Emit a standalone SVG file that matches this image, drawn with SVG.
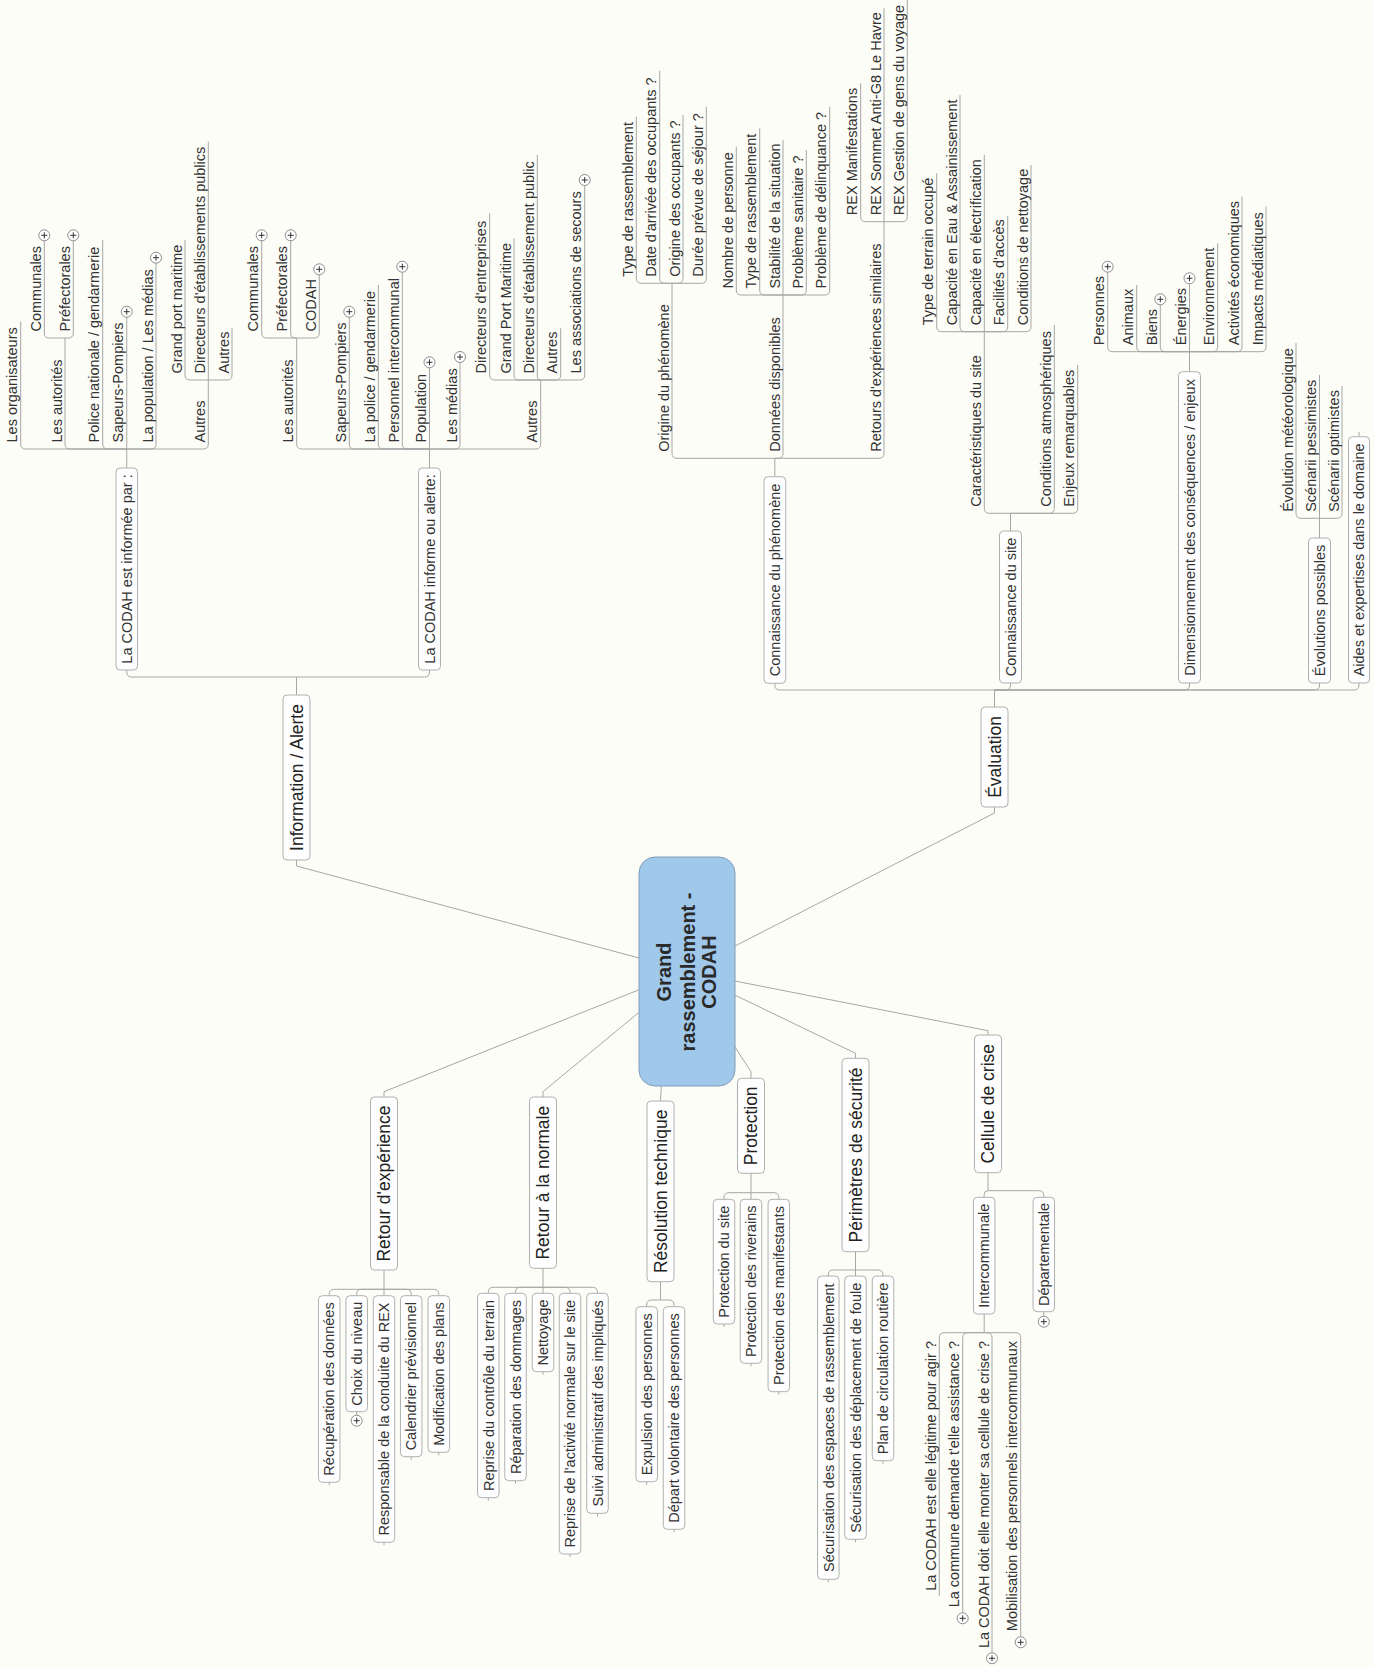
<svg xmlns="http://www.w3.org/2000/svg" width="1374" height="1667" viewBox="0 0 1374 1667">
<defs>
<style>
.bg{fill:#fdfdf7}
.c{fill:none;stroke:#a6a6a6;stroke-width:1}
.bx{fill:#fefefe;stroke:#b0b0b0;stroke-width:1}
.l{font-family:"Liberation Sans",Arial,sans-serif;font-size:14.5px;fill:#333}
.m{text-anchor:middle}
.e{text-anchor:end}
.t{font-family:"Liberation Sans",Arial,sans-serif;font-size:17.5px;fill:#222;text-anchor:middle}
.r{font-family:"Liberation Sans",Arial,sans-serif;font-size:20px;font-weight:bold;fill:#2a2a2a;text-anchor:middle}
</style>
<g id="p"><circle r="5.5" fill="#fff" stroke="#8c8c8c"/><path d="M-3 0H3M0-3V3" stroke="#333" stroke-width="1"/></g>
</defs>
<rect class="bg" x="0" y="0" width="1374" height="1667"/>

<g id="connectors" class="c">
<!-- root -->
<path d="M639 958 L296.5 866 V860"/>
<path d="M735 946 L994.5 813 V807"/>
<path d="M638.5 990 L384 1091.7 V1097"/>
<path d="M638.5 1012.7 L543 1091.7 V1097"/>
<path d="M661.3 1086 L660.5 1101"/>
<path d="M734.7 1046.7 L751 1071.7 V1078.3"/>
<path d="M734.7 995 L855.5 1053.3 V1058.3"/>
<path d="M734.7 981 L988 1030.7 V1035"/>
<!-- Information / Alerte -->
<path d="M296.5 695 V677"/>
<path d="M296.5 677 H131.75 Q126.75 677 126.75 672 V670"/>
<path d="M296.5 677 H424.5 Q429.5 677 429.5 672 V670"/>
<path d="M126.75 468 V449"/>
<path d="M126.75 449 H25.7 Q20.7 449 20.7 444 V321.7"/>
<path d="M126.75 449 H70 Q65 449 65 444 V338"/>
<path d="M126.75 449 H107.7 Q102.7 449 102.7 444 V240"/>
<path d="M126.75 449 V317.2"/>
<path d="M126.75 449 H151 Q156 449 156 444 V263.2"/>
<path d="M126.75 449 H203.3 Q208.3 449 208.3 444 V380"/>
<path d="M65 338 H49.3 Q44.3 338 44.3 333 V240.8"/>
<path d="M65 338 H68.3 Q73.3 338 73.3 333 V240.8"/>
<path d="M208.3 380 H190 Q185 380 185 375 V240"/>
<path d="M208.3 380 V141.7"/>
<path d="M208.3 380 H227 Q232 380 232 375 V328"/>
<path d="M429.5 468 V449"/>
<path d="M429.5 449 H301.7 Q296.7 449 296.7 444 V338"/>
<path d="M429.5 449 H354.3 Q349.3 449 349.3 444 V317.2"/>
<path d="M429.5 449 H383.3 Q378.3 449 378.3 444 V285"/>
<path d="M429.5 449 H407.3 Q402.3 449 402.3 444 V272.2"/>
<path d="M429.5 449 V367.8"/>
<path d="M429.5 449 H455 Q460 449 460 444 V362.5"/>
<path d="M429.5 449 H535.7 Q540.7 449 540.7 444 V380"/>
<path d="M296.7 338 H266.7 Q261.7 338 261.7 333 V240.8"/>
<path d="M296.7 338 H295.7 Q290.7 338 290.7 333 V240.8"/>
<path d="M296.7 338 H314.3 Q319.3 338 319.3 333 V274.8"/>
<path d="M540.7 380 H494.7 Q489.7 380 489.7 375 V213.3"/>
<path d="M540.7 380 H519 Q514 380 514 375 V238.3"/>
<path d="M540.7 380 Q537.3 380 537.3 376.6 V155"/>
<path d="M540.7 380 H555.7 Q560.7 380 560.7 375 V328.3"/>
<path d="M540.7 380 H579.7 Q584.7 380 584.7 375 V185.5"/>
<!-- Évaluation -->
<path d="M994.5 707 V690"/>
<path d="M994.5 690 H779.85 Q774.85 690 774.85 685 V683.3"/>
<path d="M994.5 690 H1005.5 Q1010.5 690 1010.5 685 V683"/>
<path d="M994.5 690 H1184.5 Q1189.5 690 1189.5 685 V683"/>
<path d="M994.5 690 H1314.5 Q1319.5 690 1319.5 685 V683"/>
<path d="M994.5 690 H1354 Q1359 690 1359 685 V683"/>
<path d="M1359 436.7 V432"/>
<path d="M774.85 476.7 V458.3"/>
<path d="M774.85 458.3 H677 Q672 458.3 672 453.3 V283.3"/>
<path d="M774.85 458.3 H778 Q783 458.3 783 453.3 V295"/>
<path d="M774.85 458.3 H879 Q884 458.3 884 453.3 V221.7"/>
<path d="M672 283.3 H641.3 Q636.3 283.3 636.3 278.3 V116.7"/>
<path d="M672 283.3 H664.7 Q659.7 283.3 659.7 278.3 V70.7"/>
<path d="M672 283.3 H678 Q683 283.3 683 278.3 V115"/>
<path d="M672 283.3 H701.3 Q706.3 283.3 706.3 278.3 V106.7"/>
<path d="M783 295 H741.3 Q736.3 295 736.3 290 V146.7"/>
<path d="M783 295 H764.7 Q759.7 295 759.7 290 V128.3"/>
<path d="M783 295 V140"/>
<path d="M783 295 H801.3 Q806.3 295 806.3 290 V150"/>
<path d="M783 295 H824.7 Q829.7 295 829.7 290 V106.7"/>
<path d="M884 221.7 H865.7 Q860.7 221.7 860.7 216.7 V83.3"/>
<path d="M884 221.7 V8.3"/>
<path d="M884 221.7 H902.3 Q907.3 221.7 907.3 216.7 V0"/>
<path d="M1010.5 531 V513.3"/>
<path d="M1010.5 513.3 H989.3 Q984.3 513.3 984.3 508.3 V331.7"/>
<path d="M1010.5 513.3 H1049.3 Q1054.3 513.3 1054.3 508.3 V325"/>
<path d="M1010.5 513.3 H1072.7 Q1077.7 513.3 1077.7 508.3 V365"/>
<path d="M984.3 331.7 H941.7 Q936.7 331.7 936.7 326.7 V173.3"/>
<path d="M984.3 331.7 H965 Q960 331.7 960 326.7 V95"/>
<path d="M984.3 331.7 V155"/>
<path d="M984.3 331.7 H1002.7 Q1007.7 331.7 1007.7 326.7 V216"/>
<path d="M984.3 331.7 H1026 Q1031 331.7 1031 326.7 V165"/>
<path d="M1189.5 371.7 V351.7"/>
<path d="M1189.5 351.7 H1112.7 Q1107.7 351.7 1107.7 346.7 V272.2"/>
<path d="M1189.5 351.7 H1141.7 Q1136.7 351.7 1136.7 346.7 V285"/>
<path d="M1189.5 351.7 H1165.3 Q1160.3 351.7 1160.3 346.7 V304.8"/>
<path d="M1189.5 351.7 V283.8"/>
<path d="M1189.5 351.7 H1212.7 Q1217.7 351.7 1217.7 346.7 V243.3"/>
<path d="M1189.5 351.7 H1237 Q1242 351.7 1242 346.7 V196.7"/>
<path d="M1189.5 351.7 H1261 Q1266 351.7 1266 346.7 V206.7"/>
<path d="M1319.5 538 V518.3"/>
<path d="M1319.5 518.3 H1301 Q1296 518.3 1296 513.3 V343"/>
<path d="M1319.5 518.3 V375"/>
<path d="M1319.5 518.3 H1337 Q1342 518.3 1342 513.3 V386"/>
<!-- Retour d'expérience -->
<path d="M384 1270 V1289.3"/>
<path d="M384 1289.3 H334.2 Q329.2 1289.3 329.2 1294.3 V1295.7"/>
<path d="M384 1289.3 H361.7 Q356.7 1289.3 356.7 1294.3 V1295.7"/>
<path d="M384 1289.3 V1295.7"/>
<path d="M384 1289.3 H406.2 Q411.2 1289.3 411.2 1294.3 V1295.7"/>
<path d="M384 1289.3 H433.8 Q438.8 1289.3 438.8 1294.3 V1295.7"/>
<path d="M329.2 1482.3 v3 M356.7 1411.7 V1415.2 M384 1542.3 v3 M411.2 1456.7 v3 M438.8 1452.3 v3"/>
<!-- Retour à la normale -->
<path d="M543 1268.3 V1287.3"/>
<path d="M543 1287.3 H493.3 Q488.3 1287.3 488.3 1292.3 V1293.3"/>
<path d="M543 1287.3 H520.5 Q515.5 1287.3 515.5 1292.3 V1293.3"/>
<path d="M543 1287.3 V1293.3"/>
<path d="M543 1287.3 H565 Q570 1287.3 570 1292.3 V1293.3"/>
<path d="M543 1287.3 H592.5 Q597.5 1287.3 597.5 1292.3 V1293.3"/>
<path d="M488.3 1497.7 v3 M515.5 1480.7 v3 M543 1371.7 v3 M570 1554 v3 M597.5 1513.3 v3"/>
<!-- Résolution technique -->
<path d="M660.5 1281.7 V1300"/>
<path d="M660.5 1300 H651.7 Q646.7 1300 646.7 1305 V1306.7"/>
<path d="M660.5 1300 H669 Q674 1300 674 1305 V1306.7"/>
<path d="M646.7 1481.7 v3 M674 1529.3 v3"/>
<!-- Protection -->
<path d="M751 1173.3 V1192.7"/>
<path d="M751 1192.7 H729 Q724 1192.7 724 1197.7 V1199.3"/>
<path d="M751 1192.7 V1199.3"/>
<path d="M751 1192.7 H773.8 Q778.8 1192.7 778.8 1197.7 V1199.3"/>
<path d="M724 1324 v3 M751 1363.3 v3 M778.8 1391.7 v3"/>
<!-- Périmètres de sécurité -->
<path d="M855.5 1251.7 V1270"/>
<path d="M855.5 1270 H833.3 Q828.3 1270 828.3 1275 V1276"/>
<path d="M855.5 1270 V1276"/>
<path d="M855.5 1270 H878 Q883 1270 883 1275 V1276"/>
<path d="M828.3 1579.3 v3 M855.5 1539.3 v3 M883 1460.7 v3"/>
<!-- Cellule de crise -->
<path d="M988 1172.7 V1190.7"/>
<path d="M988 1190.7 Q984.2 1190.7 984.2 1194.5 V1197.3"/>
<path d="M988 1190.7 H1038.8 Q1043.8 1190.7 1043.8 1195.7 V1197.3"/>
<path d="M1043.8 1311.7 V1316.2"/>
<path d="M984.2 1314 V1332.7"/>
<path d="M984.2 1332.7 H944.3 Q939.3 1332.7 939.3 1337.7 V1596"/>
<path d="M984.2 1332.7 H967.7 Q962.7 1332.7 962.7 1337.7 V1612.8"/>
<path d="M984.2 1332.7 H987 Q992 1332.7 992 1337.7 V1652.8"/>
<path d="M984.2 1332.7 H1015.7 Q1020.7 1332.7 1020.7 1337.7 V1636.8"/>
</g>

<g id="root">
<rect x="639" y="857" width="96" height="229" rx="16" fill="#a0c8eb" stroke="#7f9db8"/>
<text class="r" transform="translate(671 972) rotate(-90)">Grand</text>
<text class="r" transform="translate(694.5 972) rotate(-90)">rassemblement -</text>
<text class="r" transform="translate(716 972) rotate(-90)">CODAH</text>
</g>

<!-- Information / Alerte -->
<g id="n-info">
<rect class="bx" x="283" y="695" width="27" height="165" rx="4"/>
<text class="t" transform="translate(302.8 777.5) rotate(-90)">Information / Alerte</text>
</g>
<g id="n-info-1">
<rect class="bx" x="116" y="468" width="21.5" height="202" rx="4"/>
<text class="l m" transform="translate(132 569) rotate(-90)">La CODAH est informée par :</text>
</g>
<g id="n-info-1-a"><text class="l" transform="translate(17.4 442.5) rotate(-90)">Les organisateurs</text></g>
<g id="n-info-1-b"><text class="l" transform="translate(61.7 442.5) rotate(-90)">Les autorités</text></g>
<g id="n-info-1-b1"><text class="l" transform="translate(41 331.5) rotate(-90)">Communales</text><use href="#p" x="44.3" y="235.3"/></g>
<g id="n-info-1-b2"><text class="l" transform="translate(70 331.5) rotate(-90)">Préfectorales</text><use href="#p" x="73.3" y="235.3"/></g>
<g id="n-info-1-c"><text class="l" transform="translate(99.4 442.5) rotate(-90)">Police nationale / gendarmerie</text></g>
<g id="n-info-1-d"><text class="l" transform="translate(123.4 442.5) rotate(-90)">Sapeurs-Pompiers</text><use href="#p" x="126.75" y="311.7"/></g>
<g id="n-info-1-e"><text class="l" transform="translate(152.7 442.5) rotate(-90)">La population / Les médias</text><use href="#p" x="156" y="257.7"/></g>
<g id="n-info-1-f"><text class="l" transform="translate(205 442.5) rotate(-90)">Autres</text></g>
<g id="n-info-1-f1"><text class="l" transform="translate(181.7 373.5) rotate(-90)">Grand port maritime</text></g>
<g id="n-info-1-f2"><text class="l" transform="translate(205 373.5) rotate(-90)">Directeurs d'établissements publics</text></g>
<g id="n-info-1-f3"><text class="l" transform="translate(228.7 373.5) rotate(-90)">Autres</text></g>

<g id="n-info-2">
<rect class="bx" x="418.5" y="468" width="22" height="202" rx="4"/>
<text class="l m" transform="translate(434.7 569) rotate(-90)">La CODAH informe ou alerte:</text>
</g>
<g id="n-info-2-a"><text class="l" transform="translate(293.4 442.5) rotate(-90)">Les autorités</text></g>
<g id="n-info-2-a1"><text class="l" transform="translate(258.4 331.5) rotate(-90)">Communales</text><use href="#p" x="261.7" y="235.3"/></g>
<g id="n-info-2-a2"><text class="l" transform="translate(287.4 331.5) rotate(-90)">Préfectorales</text><use href="#p" x="290.7" y="235.3"/></g>
<g id="n-info-2-a3"><text class="l" transform="translate(316 331.5) rotate(-90)">CODAH</text><use href="#p" x="319.3" y="269.3"/></g>
<g id="n-info-2-b"><text class="l" transform="translate(346 442.5) rotate(-90)">Sapeurs-Pompiers</text><use href="#p" x="349.3" y="311.7"/></g>
<g id="n-info-2-c"><text class="l" transform="translate(375 442.5) rotate(-90)">La police / gendarmerie</text></g>
<g id="n-info-2-d"><text class="l" transform="translate(399 442.5) rotate(-90)">Personnel intercommunal</text><use href="#p" x="402.3" y="266.7"/></g>
<g id="n-info-2-e"><text class="l" transform="translate(426.2 442.5) rotate(-90)">Population</text><use href="#p" x="429.5" y="362.3"/></g>
<g id="n-info-2-f"><text class="l" transform="translate(456.7 442.5) rotate(-90)">Les médias</text><use href="#p" x="460" y="357"/></g>
<g id="n-info-2-g"><text class="l" transform="translate(537.4 442.5) rotate(-90)">Autres</text></g>
<g id="n-info-2-g1"><text class="l" transform="translate(486.4 373.5) rotate(-90)">Directeurs d'entreprises</text></g>
<g id="n-info-2-g2"><text class="l" transform="translate(510.7 373.5) rotate(-90)">Grand Port Maritime</text></g>
<g id="n-info-2-g3"><text class="l" transform="translate(534 373.5) rotate(-90)">Directeurs d'établissement public</text></g>
<g id="n-info-2-g4"><text class="l" transform="translate(557.4 373.5) rotate(-90)">Autres</text></g>
<g id="n-info-2-g5"><text class="l" transform="translate(581.4 373.5) rotate(-90)">Les associations de secours</text><use href="#p" x="584.7" y="180"/></g>

<!-- Évaluation -->
<g id="n-eval">
<rect class="bx" x="981" y="707" width="27" height="100" rx="4"/>
<text class="t" transform="translate(1000.8 757) rotate(-90)">Évaluation</text>
</g>
<g id="n-eval-1">
<rect class="bx" x="764" y="476.7" width="21.7" height="206.6" rx="4"/>
<text class="l m" transform="translate(780 580) rotate(-90)">Connaissance du phénomène</text>
</g>
<g id="n-eval-1-a"><text class="l" transform="translate(668.7 451.8) rotate(-90)">Origine du phénomène</text></g>
<g id="n-eval-1-a1"><text class="l" transform="translate(633 276.8) rotate(-90)">Type de rassemblement</text></g>
<g id="n-eval-1-a2"><text class="l" transform="translate(656.4 276.8) rotate(-90)">Date d'arrivée des occupants ?</text></g>
<g id="n-eval-1-a3"><text class="l" transform="translate(679.7 276.8) rotate(-90)">Origine des occupants ?</text></g>
<g id="n-eval-1-a4"><text class="l" transform="translate(703 276.8) rotate(-90)">Durée prévue de séjour ?</text></g>
<g id="n-eval-1-b"><text class="l" transform="translate(779.7 451.8) rotate(-90)">Données disponibles</text></g>
<g id="n-eval-1-b1"><text class="l" transform="translate(733 288.5) rotate(-90)">Nombre de personne</text></g>
<g id="n-eval-1-b2"><text class="l" transform="translate(756.4 288.5) rotate(-90)">Type de rassemblement</text></g>
<g id="n-eval-1-b3"><text class="l" transform="translate(779.7 288.5) rotate(-90)">Stabilité de la situation</text></g>
<g id="n-eval-1-b4"><text class="l" transform="translate(803 288.5) rotate(-90)">Problème sanitaire ?</text></g>
<g id="n-eval-1-b5"><text class="l" transform="translate(826.4 288.5) rotate(-90)">Problème de délinquance ?</text></g>
<g id="n-eval-1-c"><text class="l" transform="translate(880.7 451.8) rotate(-90)">Retours d'expériences similaires</text></g>
<g id="n-eval-1-c1"><text class="l" transform="translate(857.4 215.2) rotate(-90)">REX Manifestations</text></g>
<g id="n-eval-1-c2"><text class="l" transform="translate(880.7 215.2) rotate(-90)">REX Sommet Anti-G8 Le Havre</text></g>
<g id="n-eval-1-c3"><text class="l" transform="translate(904 215.2) rotate(-90)">REX Gestion de gens du voyage</text></g>

<g id="n-eval-2">
<rect class="bx" x="999.5" y="531" width="22" height="152" rx="4"/>
<text class="l m" transform="translate(1015.7 607) rotate(-90)">Connaissance du site</text>
</g>
<g id="n-eval-2-a"><text class="l" transform="translate(981 506.8) rotate(-90)">Caractéristiques du site</text></g>
<g id="n-eval-2-a1"><text class="l" transform="translate(933.4 325.2) rotate(-90)">Type de terrain occupé</text></g>
<g id="n-eval-2-a2"><text class="l" transform="translate(956.7 325.2) rotate(-90)">Capacité en Eau &amp; Assainissement</text></g>
<g id="n-eval-2-a3"><text class="l" transform="translate(981 325.2) rotate(-90)">Capacité en électrification</text></g>
<g id="n-eval-2-a4"><text class="l" transform="translate(1004.4 325.2) rotate(-90)">Facilités d'accès</text></g>
<g id="n-eval-2-a5"><text class="l" transform="translate(1027.7 325.2) rotate(-90)">Conditions de nettoyage</text></g>
<g id="n-eval-2-b"><text class="l" transform="translate(1051 506.8) rotate(-90)">Conditions atmosphériques</text></g>
<g id="n-eval-2-c"><text class="l" transform="translate(1074.4 506.8) rotate(-90)">Enjeux remarquables</text></g>

<g id="n-eval-3">
<rect class="bx" x="1178.5" y="371.7" width="22" height="311.3" rx="4"/>
<text class="l m" transform="translate(1194.7 527.4) rotate(-90)">Dimensionnement des conséquences / enjeux</text>
</g>
<g id="n-eval-3-a"><text class="l" transform="translate(1104.4 345.2) rotate(-90)">Personnes</text><use href="#p" x="1107.7" y="266.7"/></g>
<g id="n-eval-3-b"><text class="l" transform="translate(1133.4 345.2) rotate(-90)">Animaux</text></g>
<g id="n-eval-3-c"><text class="l" transform="translate(1157 345.2) rotate(-90)">Biens</text><use href="#p" x="1160.3" y="299.3"/></g>
<g id="n-eval-3-d"><text class="l" transform="translate(1186.2 345.2) rotate(-90)">Énergies</text><use href="#p" x="1189.5" y="278.3"/></g>
<g id="n-eval-3-e"><text class="l" transform="translate(1214.4 345.2) rotate(-90)">Environnement</text></g>
<g id="n-eval-3-f"><text class="l" transform="translate(1238.7 345.2) rotate(-90)">Activités économiques</text></g>
<g id="n-eval-3-g"><text class="l" transform="translate(1262.7 345.2) rotate(-90)">Impacts médiatiques</text></g>

<g id="n-eval-4">
<rect class="bx" x="1308.5" y="538" width="22" height="145" rx="4"/>
<text class="l m" transform="translate(1324.7 610.5) rotate(-90)">Évolutions possibles</text>
</g>
<g id="n-eval-4-a"><text class="l" transform="translate(1292.7 511.8) rotate(-90)">Évolution météorologique</text></g>
<g id="n-eval-4-b"><text class="l" transform="translate(1316 511.8) rotate(-90)">Scénarii pessimistes</text></g>
<g id="n-eval-4-c"><text class="l" transform="translate(1338.7 511.8) rotate(-90)">Scénarii optimistes</text></g>

<g id="n-eval-5">
<rect class="bx" x="1348.5" y="436.7" width="21" height="246.3" rx="4"/>
<text class="l m" transform="translate(1364.2 559.9) rotate(-90)">Aides et expertises dans le domaine</text>
</g>

<!-- Retour d'expérience -->
<g id="n-rex">
<rect class="bx" x="370.5" y="1097" width="27" height="173" rx="4"/>
<text class="t" transform="translate(390.3 1183.5) rotate(-90)">Retour d'expérience</text>
</g>
<g id="n-rex-1"><rect class="bx" x="318.45" y="1295.7" width="21.5" height="186.6" rx="4"/><text class="l m" transform="translate(334.4 1389) rotate(-90)">Récupération des données</text></g>
<g id="n-rex-2"><rect class="bx" x="345.95" y="1295.7" width="21.5" height="116" rx="4"/><text class="l m" transform="translate(361.9 1353.7) rotate(-90)">Choix du niveau</text><use href="#p" x="356.7" y="1420.7"/></g>
<g id="n-rex-3"><rect class="bx" x="373.25" y="1295.7" width="21.5" height="246.6" rx="4"/><text class="l m" transform="translate(389.2 1419) rotate(-90)">Responsable de la conduite du REX</text></g>
<g id="n-rex-4"><rect class="bx" x="400.45" y="1295.7" width="21.5" height="161" rx="4"/><text class="l m" transform="translate(416.4 1376.2) rotate(-90)">Calendrier prévisionnel</text></g>
<g id="n-rex-5"><rect class="bx" x="428.05" y="1295.7" width="21.5" height="156.6" rx="4"/><text class="l m" transform="translate(444 1374) rotate(-90)">Modification des plans</text></g>

<!-- Retour à la normale -->
<g id="n-norm">
<rect class="bx" x="529.5" y="1097" width="27" height="171.3" rx="4"/>
<text class="t" transform="translate(549.3 1182.7) rotate(-90)">Retour à la normale</text>
</g>
<g id="n-norm-1"><rect class="bx" x="477.55" y="1293.3" width="21.5" height="204.4" rx="4"/><text class="l m" transform="translate(493.5 1395.5) rotate(-90)">Reprise du contrôle du terrain</text></g>
<g id="n-norm-2"><rect class="bx" x="504.75" y="1293.3" width="21.5" height="187.4" rx="4"/><text class="l m" transform="translate(520.7 1387) rotate(-90)">Réparation des dommages</text></g>
<g id="n-norm-3"><rect class="bx" x="532.25" y="1293.3" width="21.5" height="78.4" rx="4"/><text class="l m" transform="translate(548.2 1332.5) rotate(-90)">Nettoyage</text></g>
<g id="n-norm-4"><rect class="bx" x="559.25" y="1293.3" width="21.5" height="260.7" rx="4"/><text class="l m" transform="translate(575.2 1423.7) rotate(-90)">Reprise de l'activité normale sur le site</text></g>
<g id="n-norm-5"><rect class="bx" x="586.75" y="1293.3" width="21.5" height="220" rx="4"/><text class="l m" transform="translate(602.7 1403.3) rotate(-90)">Suivi administratif des impliqués</text></g>

<!-- Résolution technique -->
<g id="n-tech">
<rect class="bx" x="647" y="1101" width="27" height="180.7" rx="4"/>
<text class="t" transform="translate(666.8 1191.3) rotate(-90)">Résolution technique</text>
</g>
<g id="n-tech-1"><rect class="bx" x="635.95" y="1306.7" width="21.5" height="175" rx="4"/><text class="l m" transform="translate(651.9 1394.2) rotate(-90)">Expulsion des personnes</text></g>
<g id="n-tech-2"><rect class="bx" x="663.25" y="1306.7" width="21.5" height="222.6" rx="4"/><text class="l m" transform="translate(679.2 1418) rotate(-90)">Départ volontaire des personnes</text></g>

<!-- Protection -->
<g id="n-prot">
<rect class="bx" x="737.5" y="1078.3" width="27" height="95" rx="4"/>
<text class="t" transform="translate(757.3 1125.8) rotate(-90)">Protection</text>
</g>
<g id="n-prot-1"><rect class="bx" x="713.25" y="1199.3" width="21.5" height="124.7" rx="4"/><text class="l m" transform="translate(729.2 1261.7) rotate(-90)">Protection du site</text></g>
<g id="n-prot-2"><rect class="bx" x="740.25" y="1199.3" width="21.5" height="164" rx="4"/><text class="l m" transform="translate(756.2 1281.3) rotate(-90)">Protection des riverains</text></g>
<g id="n-prot-3"><rect class="bx" x="768.05" y="1199.3" width="21.5" height="192.4" rx="4"/><text class="l m" transform="translate(784 1295.5) rotate(-90)">Protection des manifestants</text></g>

<!-- Périmètres de sécurité -->
<g id="n-peri">
<rect class="bx" x="842" y="1058.3" width="27" height="193.4" rx="4"/>
<text class="t" transform="translate(861.8 1155) rotate(-90)">Périmètres de sécurité</text>
</g>
<g id="n-peri-1"><rect class="bx" x="817.55" y="1276" width="21.5" height="303.3" rx="4"/><text class="l m" transform="translate(833.5 1427.7) rotate(-90)">Sécurisation des espaces de rassemblement</text></g>
<g id="n-peri-2"><rect class="bx" x="844.75" y="1276" width="21.5" height="263.3" rx="4"/><text class="l m" transform="translate(860.7 1407.7) rotate(-90)">Sécurisation des déplacement de foule</text></g>
<g id="n-peri-3"><rect class="bx" x="872.25" y="1276" width="21.5" height="184.7" rx="4"/><text class="l m" transform="translate(888.2 1368.4) rotate(-90)">Plan de circulation routière</text></g>

<!-- Cellule de crise -->
<g id="n-cell">
<rect class="bx" x="974.5" y="1035" width="27" height="137.7" rx="4"/>
<text class="t" transform="translate(994.3 1103.8) rotate(-90)">Cellule de crise</text>
</g>
<g id="n-cell-1"><rect class="bx" x="973.45" y="1197.3" width="21.5" height="116.7" rx="4"/><text class="l m" transform="translate(989.4 1255.7) rotate(-90)">Intercommunale</text></g>
<g id="n-cell-1-a"><text class="l e" transform="translate(936 1341) rotate(-90)">La CODAH est elle légitime pour agir ?</text></g>
<g id="n-cell-1-b"><text class="l e" transform="translate(959.4 1341) rotate(-90)">La commune demande t'elle assistance ?</text><use href="#p" x="962.7" y="1618.3"/></g>
<g id="n-cell-1-c"><text class="l e" transform="translate(988.7 1341) rotate(-90)">La CODAH doit elle monter sa cellule de crise ?</text><use href="#p" x="992" y="1658.3"/></g>
<g id="n-cell-1-d"><text class="l e" transform="translate(1017.4 1341) rotate(-90)">Mobilisation des personnels intercommunaux</text><use href="#p" x="1020.7" y="1642.3"/></g>
<g id="n-cell-2"><rect class="bx" x="1033.05" y="1197.3" width="21.5" height="114.4" rx="4"/><text class="l m" transform="translate(1049 1254.5) rotate(-90)">Départementale</text><use href="#p" x="1043.8" y="1321.7"/></g>
</svg>
